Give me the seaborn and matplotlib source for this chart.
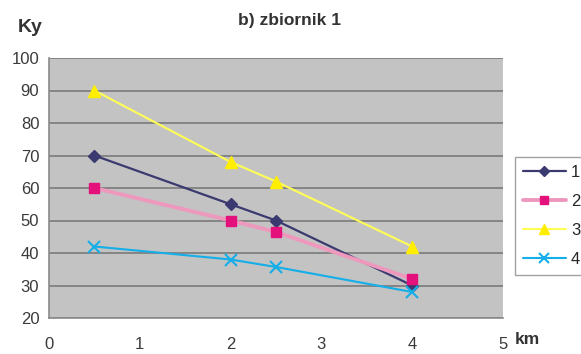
import matplotlib
matplotlib.use("Agg")
import matplotlib.pyplot as plt
import seaborn as sns
import pandas as pd

km = [0.5, 2, 2.5, 4]
s1 = [70, 55, 50, 30]
s2 = [60, 50, 46.5, 32]
s3 = [90, 68, 62, 42]
s4 = [42, 38, 35.7, 28]
labels = ["1", "2", "3", "4"]

sns.set_style("white")
plt.rcParams['font.family'] = ['Liberation Sans', 'DejaVu Sans']

fig = plt.figure(figsize=(5.81, 3.54), dpi=100)
ax = fig.add_axes([49/581, 1-318/354, (503-49)/581, (318-58)/354])
ax.set_facecolor("#c3c3c3")

styles = [
    dict(color="#3a3a70", marker="D", mfc="#3a3a70", mec="#3a3a70", ms=6, lw=1.6),
    dict(color="#ee98bd", marker="s", mfc="#e4107c", mec="#e4107c", ms=7, lw=2.8),
    dict(color="#ffff55", marker="^", mfc="#ffee00", mec="#ffee00", ms=8, lw=1.5),
    dict(color="#14aee8", marker="x", mfc="#14aee8", mec="#14aee8", ms=8, lw=1.5, mew=1.5),
]
series = [s1, s2, s3, s4]
for lab, vals, st in zip(labels, series, styles):
    df = pd.DataFrame({"km": km, "Ky": vals})
    sns.lineplot(data=df, x="km", y="Ky", ax=ax, color=st["color"], lw=st["lw"],
                 marker=st["marker"], markerfacecolor=st["mfc"], markeredgecolor=st["mec"],
                 markersize=st["ms"], markeredgewidth=st.get("mew", 1), label=lab, legend=False)

# light centre stripe of series 2 line (double-line look)
df2 = pd.DataFrame({"km": km, "Ky": s2})
sns.lineplot(data=df2, x="km", y="Ky", ax=ax, color="#f6cadb", lw=0.8, legend=False, zorder=1.5)

ax.set_xlim(0, 5)
ax.set_ylim(20, 100)
ax.set_xticks(range(0, 6))
ax.set_yticks(range(20, 101, 10))
ax.yaxis.grid(True, color="#7a7a7a", lw=1.2)
ax.set_axisbelow(True)
for s in ["top", "right"]:
    ax.spines[s].set_visible(False)
for s in ["left", "bottom"]:
    ax.spines[s].set_color("#8a8a8a")
    ax.spines[s].set_linewidth(1.2)
ax.tick_params(axis="both", labelsize=12, colors="#3a3a3a", length=4, width=1)
ax.tick_params(axis="x", direction="inout", color="#8a8a8a", pad=12)
ax.tick_params(axis="y", direction="out", color="#8a8a8a", pad=3)
ax.set_xlabel("")
ax.set_ylabel("")

fig.text(18/581, 1-28/354, "Ky", fontsize=14, fontweight="bold", color="#333333", va="center")
fig.text(289/581, 1-20/354, "b) zbiornik 1", fontsize=12.5, fontweight="bold", color="#333333",
         va="center", ha="center")
fig.text(515/581, 1-340/354, "km", fontsize=12.5, fontweight="bold", color="#333333", va="center")

h, l = ax.get_legend_handles_labels()
leg = fig.legend(h[:4], l[:4], loc="upper left",
                 bbox_to_anchor=(515/581, 1-157/354, 75/581, 0.0), mode="expand",
                 frameon=True, fancybox=False, fontsize=12, handlelength=2.6, borderpad=0.45,
                 labelspacing=0.85, handletextpad=0.3, borderaxespad=0, markerscale=0.85)
leg.get_frame().set_edgecolor("#8a8a8a")
leg.get_frame().set_linewidth(1)

fig.savefig("out.png", dpi=100)
